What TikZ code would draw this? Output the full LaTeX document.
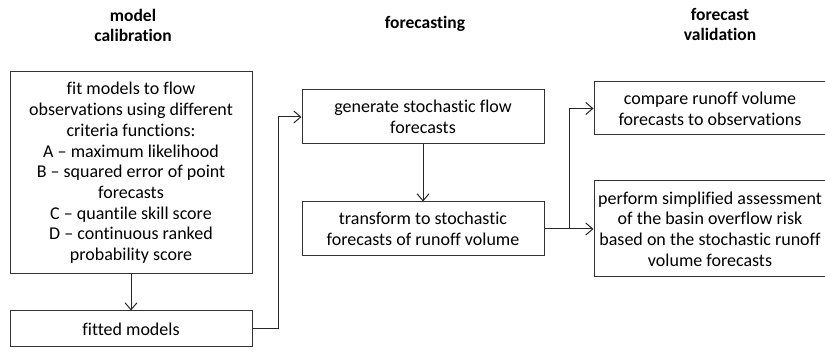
\documentclass[tikz,border=0pt]{standalone}
\usepackage{fontspec}
\setmainfont{Carlito}[Ligatures=NoCommon]
\usetikzlibrary{arrows.meta}
\tikzset{
  box/.style={draw=black!80, line width=1pt, align=center, inner sep=1pt,
    font=\fontsize{18}{20.7}\selectfont},
  head/.style={align=center, font=\fontsize{17.5}{20}\selectfont\bfseries},
  arr/.style={draw=black!85, line width=1pt, -{Straight Barb[length=7pt,width=12pt]}},
  ln/.style={draw=black!85, line width=1pt}
}
\begin{document}
\begin{tikzpicture}[x=1pt,y=-1pt]
\useasboundingbox (0,0) rectangle (825,352);
\node[head] (h1) at (133,25) {model\\calibration};
\node[head] (h2) at (425,24) {forecasting};
\node[head] (h3) at (720,24) {forecast\\validation};

\node[box, minimum width=242pt, minimum height=202pt] (calib) at (131,173)
 {fit models to flow\\observations using different\\criteria functions:\\A -- maximum likelihood\\B -- squared error of point\\forecasts\\C -- quantile skill score\\D -- continuous ranked\\probability score};
\node[box, minimum width=242pt, minimum height=36pt] (fit) at (131,329) {fitted models};
\node[box, minimum width=242pt, minimum height=54pt] (gen) at (423,117) {generate stochastic flow\\forecasts};
\node[box, minimum width=242pt, minimum height=54pt] (trans) at (423,229) {transform to stochastic\\forecasts of runoff volume};
\node[box, minimum width=232pt, minimum height=53pt] (comp) at (710,108.5) {compare runoff volume\\forecasts to observations};
\node[box, minimum width=232pt, minimum height=96pt] (perf) at (710,229) {perform simplified assessment\\of the basin overflow risk\\based on the stochastic runoff\\volume forecasts};

\coordinate (bend) at (278,329);
\coordinate (split) at (569,229);
\draw[arr] (calib.south) -- (fit.north);
\draw[arr] (fit.east) -- (bend) |- (gen.west);
\draw[arr] (gen.south) -- (trans.north);
\draw[ln] (trans.east) -- (split);
\draw[arr] (split) |- (comp.west);
\draw[arr] (split) -- (perf.west);
\end{tikzpicture}
\end{document}
